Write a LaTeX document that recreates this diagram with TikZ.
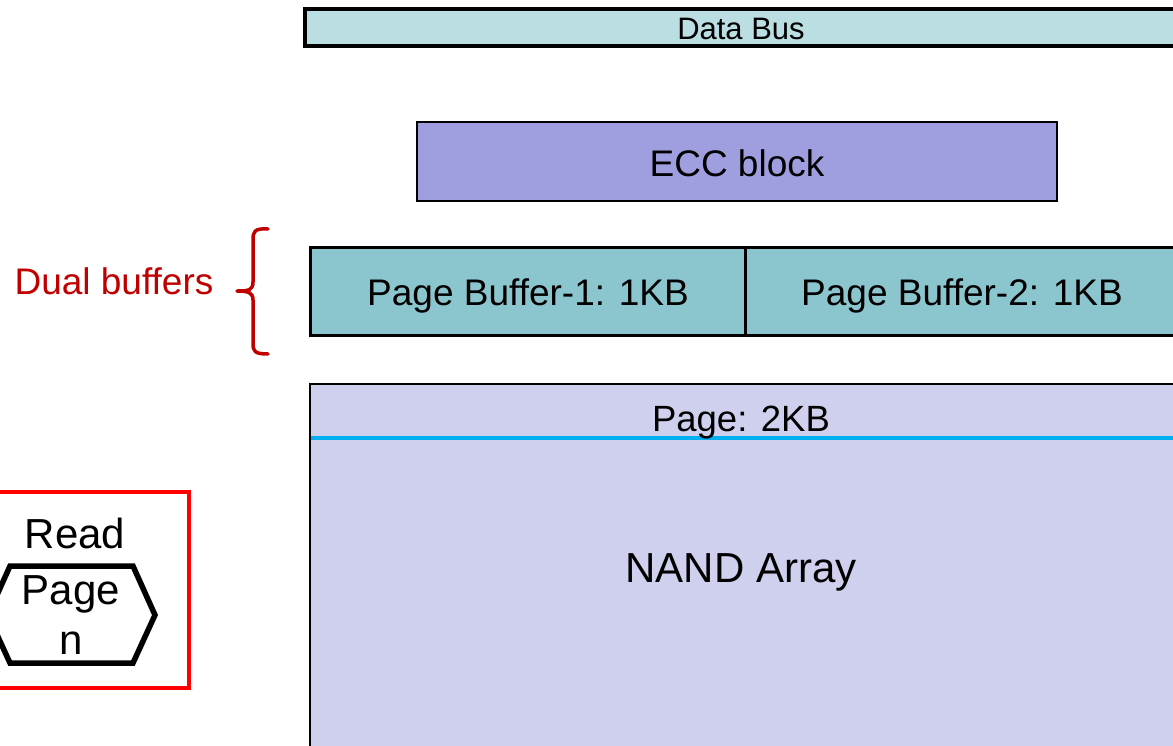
\documentclass[tikz,border=0pt]{standalone}
\usepackage{fontspec}
\setmainfont{Liberation Sans}
\definecolor{busfill}{HTML}{BADEE2}
\definecolor{eccfill}{HTML}{9F9FDF}
\definecolor{buffill}{HTML}{8BC6CE}
\definecolor{nandfill}{HTML}{CFCFEE}
\definecolor{pageline}{HTML}{00B0F0}
\definecolor{darkred}{HTML}{C00000}
\tikzset{
  blk/.style={draw=black, line join=miter},
  lbl/.style={inner sep=0pt, font=\fontsize{35}{38}\selectfont},
}
\begin{document}
\begin{tikzpicture}[x=1pt,y=-1pt]
\useasboundingbox (0,0) rectangle (1173,745);
\clip (0,0) rectangle (1173,745);
% Data bus
\draw[blk, fill=busfill, line width=4.5pt] (305,9) rectangle (1185,46);
\node[lbl, font=\fontsize{31}{33}\selectfont] (bus) at (741,29) {Data Bus};
% ECC
\draw[blk, fill=eccfill, line width=2.5pt] (417,122) rectangle (1057,201);
\node[lbl, font=\fontsize{37}{40}\selectfont] (ecc) at (737,163) {ECC block};
% Page buffers
\draw[blk, fill=buffill, line width=3pt] (310,247) rectangle (745,335);
\draw[blk, fill=buffill, line width=3pt] (745,247) rectangle (1185,335);
\node[lbl, font=\fontsize{37}{40}\selectfont] (pb1) at (528,296) {Page Buffer-1: 1KB};
\node[lbl, font=\fontsize{37}{40}\selectfont] (pb2) at (962,296) {Page Buffer-2: 1KB};
% NAND array
\draw[blk, fill=nandfill, line width=2.5pt] (310,384) rectangle (1185,760);
\draw[pageline, line width=4pt] (311,438) -- (1185,438);
\node[lbl, font=\fontsize{36.5}{39}\selectfont] (page) at (741,423) {Page: 2KB};
\node[lbl, font=\fontsize{42}{44}\selectfont] (nand) at (741,572) {NAND Array};
% Dual buffers label and brace
\node[lbl, font=\fontsize{37}{40}\selectfont, text=darkred] (dual) at (114,281) {Dual buffers};
\draw[darkred, line width=3.5pt, line cap=round, line join=round]
  (268,229) .. controls (254,228) and (253,232) .. (253,240)
  -- (253,282) .. controls (253,290) and (249,291) .. (237,291)
  (237,291) .. controls (249,291) and (253,293) .. (253,300)
  -- (253,343) .. controls (253,351) and (254,354) .. (268,354);
% Read box
\draw[red, line width=4pt] (-10,492) rectangle (189,688);
\node[lbl, font=\fontsize{42}{44}\selectfont] (read) at (75,533) {Read};
\draw[black, line width=5.5pt, line join=miter] (10,566) -- (133,566) -- (155,615) -- (133,663) -- (10,663) -- (-12,615) -- cycle;
\node[lbl, font=\fontsize{42}{44}\selectfont] (pg) at (71,594) {Page};
\node[lbl, font=\fontsize{42}{44}\selectfont] (n) at (71,643) {n};
\end{tikzpicture}
\end{document}
